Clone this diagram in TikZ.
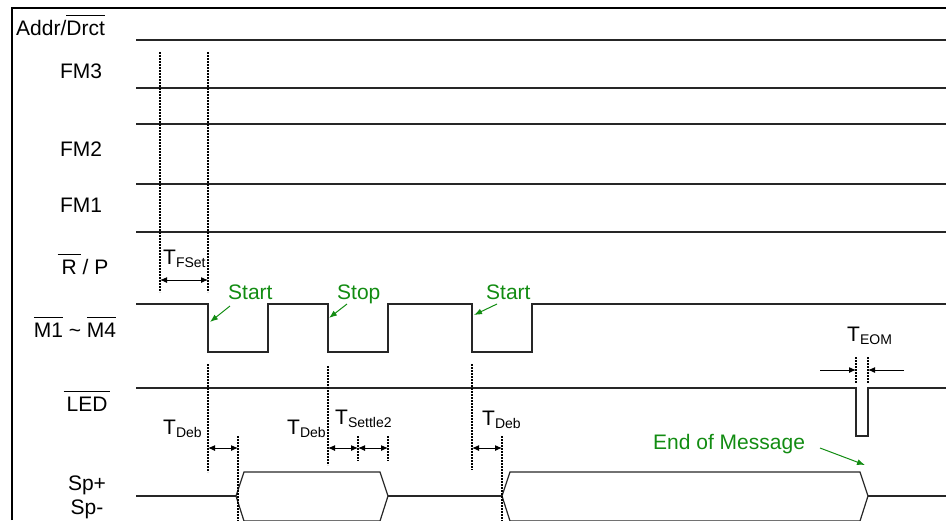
\documentclass[tikz,border=0pt]{standalone}
\usepackage{fontspec}
\setmainfont{Liberation Sans}
\usepackage{xcolor}
\usepackage{tikz}
\usetikzlibrary{arrows.meta}
\definecolor{notecolor}{HTML}{128C12}
\newcommand{\ovl}[2][0pt]{\leavevmode\setbox0\hbox{#2}%
  \vbox{\offinterlineskip\hbox to \wd0{\hss\vrule height 1.1pt depth 0pt width \dimexpr\wd0+#1+#1\relax\hss}\kern4.5pt\box0}}
\newcommand{\tdelay}[1]{T\raisebox{-3pt}{\fontsize{14}{14}\selectfont #1}}
\tikzset{
  sigline/.style={black!85,line width=1.2pt},
  guide/.style={black,line width=1.3pt,dash pattern=on 2pt off 1pt},
  lbl/.style={inner sep=0pt,font=\fontsize{21}{25}\selectfont},
  note/.style={lbl,text=notecolor},
  notearrow/.style={notecolor,line width=1pt,-{Latex[length=8pt,width=6pt]}},
  span/.style={black,line width=1pt,{Latex[length=7pt,width=6pt]}-{Latex[length=7pt,width=6pt]}},
  single/.style={black,line width=1pt,-{Latex[length=7pt,width=6pt]}}
}

\begin{document}
\begin{tikzpicture}[x=1pt,y=-1pt]
\useasboundingbox (0,0) rectangle (946,520);
%% frame
\draw[line width=2.2pt] (12,520) -- (12,8) -- (946,8);
%% signal names
\node[lbl,anchor=base west] (addr) at (16,35) {Addr/\ovl{Drct}};
\foreach \y/\name/\txt in {78/fm3/FM3, 156/fm2/FM2, 212/fm1/FM1}
    \node[lbl,anchor=base] (\name) at (81,\y) {\txt};
\node[lbl,anchor=base] (rp) at (85,274) {\ovl[4pt]{R} / P};
\node[lbl,anchor=base] (mm) at (75,337) {\ovl{M1} \textasciitilde{} \ovl{M4}};
\node[lbl,anchor=base] (led) at (87,411) {\ovl[3pt]{LED}};
\node[lbl,anchor=base] (spp) at (87,490) {Sp+};
\node[lbl,anchor=base] (spm) at (87,514) {Sp-};
%% steady lines
\foreach \y in {40,88,124,184,232}
    \draw[sigline] (136,\y) -- (946,\y);
%% M1~M4, LED
\draw[sigline] (136,304) -| (208,352) -| (268,304) -| (328,352) -| (388,304)
    -| (472,352) -| (532,304) -- (946,304);
\draw[sigline] (136,388) -| (856,436) -| (868,388) -- (946,388);
%% Sp+/Sp-
\draw[sigline] (136,496) -- (236,496);
\draw[sigline] (236,496) -- (244,472) -- (380,472) -- (388,496) -- (380,521) -- (244,521) -- cycle;
\draw[sigline] (388,496) -- (502,496);
\draw[sigline] (502,496) -- (510,472) -- (860,472) -- (868,496) -- (860,521) -- (510,521) -- cycle;
\draw[sigline] (868,496) -- (946,496);
%% guides
\foreach \x/\ya/\yb in {160/52/292, 208/52/292, 208/364/472, 238/436/521, 328/366/465,
    358/436/461, 388/436/461, 472/364/470, 502/436/521, 856/357/383, 868/357/383}
    \draw[guide] (\x,\ya) -- (\x,\yb);
%% delays
\draw[span] (160,280) -- (208,280);
\draw[span] (208,448) -- (238,448);
\draw[span] (328,448) -- (358,448);
\draw[span] (358,448) -- (388,448);
\draw[span] (472,448) -- (502,448);
\draw[single] (820,370) -- (856,370);
\draw[single] (904,370) -- (868,370);
\node[lbl,anchor=base west] (tfset) at (163,264) {\tdelay{FSet}};
\node[lbl,anchor=base west] (tdeba) at (163,434) {\tdelay{Deb}};
\node[lbl,anchor=base west] (tdebb) at (287,434) {\tdelay{Deb}};
\node[lbl,anchor=base west] (tset) at (335,424) {\tdelay{Settle2}};
\node[lbl,anchor=base west] (tdebc) at (482,425) {\tdelay{Deb}};
\node[lbl,anchor=base west] (teom) at (847,341) {\tdelay{EOM}};
%% events
\node[note,anchor=base west] (starta) at (228,299) {Start};
\node[note,anchor=base west] (stop) at (337,299) {Stop};
\node[note,anchor=base west] (startb) at (486,299) {Start};
\node[note,anchor=base west] (eom) at (653,449) {End of Message};
\coordinate (edgea) at (210,322);
\coordinate (edgeb) at (329,318);
\coordinate (edgec) at (474,315);
\coordinate (edged) at (865,465);
\draw[notearrow] (230,306) -- (edgea);
\draw[notearrow] (347,304) -- (edgeb);
\draw[notearrow] (497,304) -- (edgec);
\draw[notearrow] (820,448) -- (edged);
\end{tikzpicture}
\end{document}
